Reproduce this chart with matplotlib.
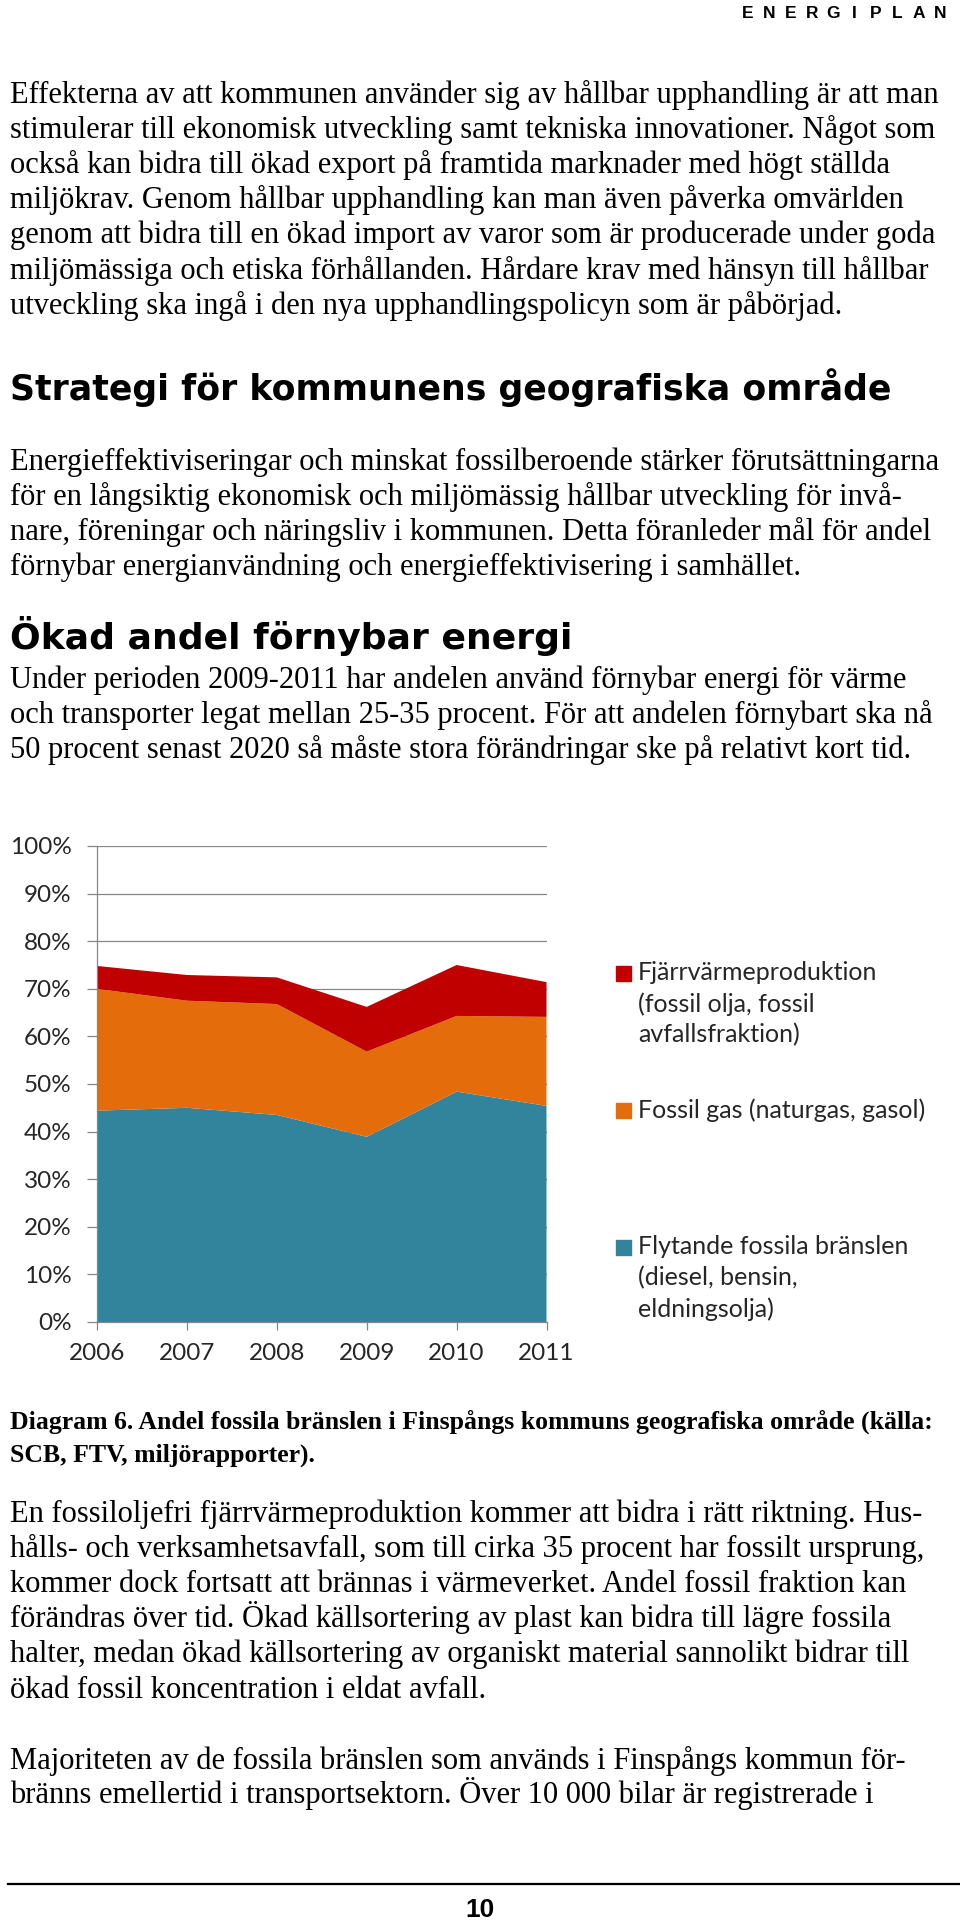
import matplotlib.pyplot as plt
from matplotlib.patches import Rectangle

# chart data (share of energy use, %)
years = [2006, 2007, 2008, 2009, 2010, 2011]
flytande = [44.4, 45.0, 43.5, 38.9, 48.4, 45.4]
fossil_gas = [25.6, 22.5, 23.3, 17.9, 15.9, 18.7]
fjarrvarme = [4.8, 5.4, 5.6, 9.4, 10.7, 7.3]
yticks = [0, 10, 20, 30, 40, 50, 60, 70, 80, 90, 100]
colors = ['#31849B', '#E46C0A', '#C00000']
legend_labels = [
    ['Fjärrvärmeproduktion', '(fossil olja, fossil', 'avfallsfraktion)'],
    ['Fossil gas (naturgas, gasol)'],
    ['Flytande fossila bränslen', '(diesel, bensin,', 'eldningsolja)'],
]

# page text
header = 'ENERGIPLAN'
para1 = [
    'Effekterna av att kommunen använder sig av hållbar upphandling är att man',
    'stimulerar till ekonomisk utveckling samt tekniska innovationer. Något som',
    'också kan bidra till ökad export på framtida marknader med högt ställda',
    'miljökrav. Genom hållbar upphandling kan man även påverka omvärlden',
    'genom att bidra till en ökad import av varor som är producerade under goda',
    'miljömässiga och etiska förhållanden. Hårdare krav med hänsyn till hållbar',
    'utveckling ska ingå i den nya upphandlingspolicyn som är påbörjad.',
]
heading1 = 'Strategi för kommunens geografiska område'
para2 = [
    'Energieffektiviseringar och minskat fossilberoende stärker förutsättningarna',
    'för en långsiktig ekonomisk och miljömässig hållbar utveckling för invå-',
    'nare, föreningar och näringsliv i kommunen. Detta föranleder mål för andel',
    'förnybar energianvändning och energieffektivisering i samhället.',
]
heading2 = 'Ökad andel förnybar energi'
para3 = [
    'Under perioden 2009-2011 har andelen använd förnybar energi för värme',
    'och transporter legat mellan 25-35 procent. För att andelen förnybart ska nå',
    '50 procent senast 2020 så måste stora förändringar ske på relativt kort tid.',
]
caption = [
    'Diagram 6. Andel fossila bränslen i Finspångs kommuns geografiska område (källa:',
    'SCB, FTV, miljörapporter).',
]
para4 = [
    'En fossiloljefri fjärrvärmeproduktion kommer att bidra i rätt riktning. Hus-',
    'hålls- och verksamhetsavfall, som till cirka 35 procent har fossilt ursprung,',
    'kommer dock fortsatt att brännas i värmeverket. Andel fossil fraktion kan',
    'förändras över tid. Ökad källsortering av plast kan bidra till lägre fossila',
    'halter, medan ökad källsortering av organiskt material sannolikt bidrar till',
    'ökad fossil koncentration i eldat avfall.',
]
para5 = [
    'Majoriteten av de fossila bränslen som används i Finspångs kommun för-',
    'bränns emellertid i transportsektorn. Över 10 000 bilar är registrerade i',
]

fig = plt.figure(figsize=(9.6, 19.2), dpi=100, facecolor='white')
page = fig.add_axes([0, 0, 1, 1])
page.set_xlim(0, 960)
page.set_ylim(1920, 0)
page.axis('off')

serif = 'Liberation Serif'
body = dict(family=serif, fontsize=22, color='black', va='baseline', ha='left')


def block(lines, y0, step=35.1, **kw):
    for i, line in enumerate(lines):
        page.text(10, y0 + i * step, line, **kw)


# spaced-out running header
for i, ch in enumerate(header):
    page.text(748 + i * 21.3, 18, ch, family='Liberation Sans', fontweight='bold',
              fontsize=12.5, ha='center', va='baseline')

block(para1, 103, **body)
page.text(10, 400, heading1, family='DejaVu Sans', fontweight='bold', fontsize=25,
          va='baseline')
block(para2, 470, **body)
page.text(10, 649, heading2, family='DejaVu Sans', fontweight='bold', fontsize=26,
          va='baseline')
block(para3, 688, **body)
block(caption, 1429, step=33, family=serif, fontweight='bold', fontsize=18.5,
      va='baseline')
block(para4, 1522, **body)
block(para5, 1769, step=34, **body)
page.plot([8, 960], [1884, 1884], color='black', lw=1.6)
page.text(480, 1917, '10', family='Liberation Sans', fontweight='bold', fontsize=19,
          ha='center', va='baseline')

# chart
ax = fig.add_axes([97 / 960, 1 - 1322 / 1920, 449.5 / 960, 476 / 1920])
ax.stackplot(years, flytande, fossil_gas, fjarrvarme, colors=colors, lw=0)
ax.set_xlim(years[0], years[-1])
ax.set_ylim(0, 100)
ax.set_yticks(yticks)
ax.set_yticklabels([f'{t}%' for t in yticks])
ax.set_xticks(years)
ax.set_xticklabels([str(y) for y in years])
grid_c = '#868686'
ax.grid(axis='y', color=grid_c, lw=0.9, zorder=0)
ax.set_axisbelow(True)
for s in ['top', 'right']:
    ax.spines[s].set_visible(False)
for s in ['left', 'bottom']:
    ax.spines[s].set_color(grid_c)
    ax.spines[s].set_linewidth(0.9)
ax.tick_params(axis='y', length=7.2, width=0.9, color=grid_c, pad=11, labelsize=17.5,
               labelcolor='#262626')
ax.tick_params(axis='x', length=6, width=0.9, color=grid_c, pad=9, labelsize=17.5,
               labelcolor='#262626')
for lab in ax.get_xticklabels() + ax.get_yticklabels():
    lab.set_family('Lato')

# legend (top entry first, as in the reference)
legend_colors = [colors[2], colors[1], colors[0]]
legend_y = [973, 1110, 1247]
for lines, c, y in zip(legend_labels, legend_colors, legend_y):
    page.add_patch(Rectangle((616, y - 7.5), 15, 15, color=c))
    for i, line in enumerate(lines):
        page.text(638, y + i * 31, line, family='Lato', fontsize=18, color='#262626',
                  va='center', ha='left')

fig.savefig('out.png', dpi=100)
